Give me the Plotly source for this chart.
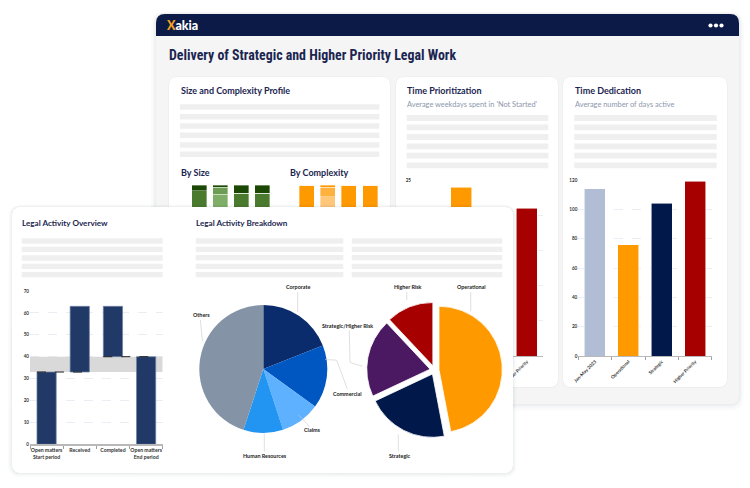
import numpy as np
import plotly.graph_objects as go

W, H = 750, 488

# ---------------- data ----------------
size_cats = ["Small", "Medium", "Large", "Very large"]
size_base = [95, 92, 93, 93]
size_mid = [0, 6, 0, 0]
size_top = [5, 2, 7, 7]

cx_cats = ["Low", "Moderate", "High", "Very high"]
cx_base = [100, 90, 100, 100]
cx_mid = [0, 8, 0, 0]
cx_top = [0, 2, 0, 0]

prio_cats = ["Jan-May 2023", "Operational", "Strategic", "Higher Priority"]
prio_vals = [13, 24, 17, 21]
prio_ticks = [0, 5, 10, 15, 20, 25]

ded_cats = ["Jan-May 2023", "Operational", "Strategic", "Higher Priority"]
ded_vals = [114, 76, 104, 119]

wf_cats = ["Open matters<br>Start period", "Received", "Completed", "Open matters<br>End period"]
wf_vals = [33, 30, -23, 40]
wf_measure = ["absolute", "relative", "relative", "total"]

area_labels = ["Corporate", "Commercial", "Claims", "Human Resources", "Others"]
area_vals = [19, 16, 10, 10, 45]

risk_labels = ["Operational", "Strategic", "Strategic/Higher Risk", "Higher Risk"]
risk_vals = [47, 21, 20, 12]

# ---------------- style ----------------
cat_colors = ["#b1bdd5", "#ff9900", "#00184a", "#a70000"]
area_colors = ["#0b2c6c", "#0057c2", "#5db1ff", "#2294f2", "#8493a6"]
risk_colors = ["#ff9900", "#00184a", "#4b1862", "#a70000"]
NAVY = "#1b2550"
FONT = "Lato"


def X(x):
    return x / W


def Y(y):
    return 1 - y / H


def rr_path(x0, y0, x1, y1, r, top_only=False):
    rb = 0 if top_only else r
    f = lambda v: f"{v:.5f}"
    return (f"M {f(X(x0 + r))} {f(Y(y0))} L {f(X(x1 - r))} {f(Y(y0))} "
            f"Q {f(X(x1))} {f(Y(y0))} {f(X(x1))} {f(Y(y0 + r))} "
            f"L {f(X(x1))} {f(Y(y1 - rb))} Q {f(X(x1))} {f(Y(y1))} {f(X(x1 - rb))} {f(Y(y1))} "
            f"L {f(X(x0 + rb))} {f(Y(y1))} Q {f(X(x0))} {f(Y(y1))} {f(X(x0))} {f(Y(y1 - rb))} "
            f"L {f(X(x0))} {f(Y(y0 + r))} Q {f(X(x0))} {f(Y(y0))} {f(X(x0 + r))} {f(Y(y0))} Z")


def rr_points(x0, y0, x1, y1, r, n=10):
    xs, ys = [], []
    for cx, cy, a0, a1 in [(x1 - r, y0 + r, -90, 0), (x1 - r, y1 - r, 0, 90),
                           (x0 + r, y1 - r, 90, 180), (x0 + r, y0 + r, 180, 270)]:
        for a in np.linspace(a0, a1, n):
            xs.append(cx + r * np.cos(np.radians(a)))
            ys.append(cy + r * np.sin(np.radians(a)))
    xs.append(xs[0])
    ys.append(ys[0])
    return xs, ys


fig = go.Figure()

# ---- subplot 1 / 2 : size & complexity mini bars ----
for vals, cols in [(size_base, ["#4a7a2d", "#80ae68", "#4a7a2d", "#4a7a2d"]),
                   (size_mid, ["#4a7a2d", "#6d9d55", "#4a7a2d", "#4a7a2d"]),
                   (size_top, ["#1c4806"] * 4)]:
    fig.add_trace(go.Bar(x=size_cats, y=vals, width=0.71, xaxis="x", yaxis="y",
                         marker=dict(color=cols, line=dict(color="rgba(255,255,255,0.6)", width=0.6)),
                         hoverinfo="skip", showlegend=False))
for vals, cols in [(cx_base, ["#ff9900", "#ffc77a", "#ff9900", "#ff9900"]),
                   (cx_mid, ["#ff9900", "#ffb13d", "#ff9900", "#ff9900"]),
                   (cx_top, ["#ff9900"] * 4)]:
    fig.add_trace(go.Bar(x=cx_cats, y=vals, width=0.71, xaxis="x2", yaxis="y2",
                         marker=dict(color=cols, line=dict(color="rgba(255,255,255,0.6)", width=0.6)),
                         hoverinfo="skip", showlegend=False))

# ---- subplot 3 / 4 : time charts ----
fig.add_trace(go.Bar(x=prio_cats, y=prio_vals, width=0.64, xaxis="x3", yaxis="y3",
                     marker=dict(color=cat_colors, line=dict(color="rgba(255,255,255,0.7)", width=0.8)),
                     hoverinfo="skip", showlegend=False))
fig.add_trace(go.Bar(x=ded_cats, y=ded_vals, width=0.63, xaxis="x4", yaxis="y4",
                     marker=dict(color=cat_colors, line=dict(color="rgba(255,255,255,0.7)", width=0.8)),
                     hoverinfo="skip", showlegend=False))

# ---- subplot 5 : front card (pixel coordinates, drawn above earlier subplots) ----
for pad, alpha in [(4, 0.018), (2.5, 0.025), (1.2, 0.035)]:
    xs, ys = rr_points(12 - pad, 207 - pad * 0.6, 513 + pad, 473 + pad * 1.2, 8 + pad)
    fig.add_trace(go.Scatter(x=xs, y=ys, fill="toself", fillcolor=f"rgba(20,30,60,{alpha})",
                             mode="lines", line=dict(width=0), xaxis="x5", yaxis="y5",
                             hoverinfo="skip", showlegend=False))
xs, ys = rr_points(12, 207, 513, 473, 8)
fig.add_trace(go.Scatter(x=xs, y=ys, fill="toself", fillcolor="white", mode="lines",
                         line=dict(width=0), xaxis="x5", yaxis="y5", hoverinfo="skip", showlegend=False))

# ---- subplot 6 : waterfall ----
fig.add_trace(go.Waterfall(x=wf_cats, y=wf_vals, measure=wf_measure, xaxis="x6", yaxis="y6",
                           increasing=dict(marker=dict(color="#213966", line=dict(color="#6f82a6", width=0.7))),
                           decreasing=dict(marker=dict(color="#213966", line=dict(color="#6f82a6", width=0.7))),
                           totals=dict(marker=dict(color="#213966", line=dict(color="#6f82a6", width=0.7))),
                           connector=dict(visible=False), hoverinfo="skip", showlegend=False))

# ---- pies ----
fig.add_trace(go.Pie(labels=area_labels, values=area_vals, sort=False, direction="clockwise",
                     rotation=0, textinfo="none", hoverinfo="skip", showlegend=False,
                     marker=dict(colors=area_colors, line=dict(width=0)),
                     domain=dict(x=[X(199.3), X(327.3)], y=[Y(433), Y(305)])))
fig.add_trace(go.Pie(labels=risk_labels, values=risk_vals, sort=False, direction="clockwise",
                     rotation=0, textinfo="none", hoverinfo="skip", showlegend=False,
                     pull=[0.071] * len(risk_vals),
                     marker=dict(colors=risk_colors, line=dict(color="white", width=0.8)),
                     domain=dict(x=[X(366.7), X(502.3)], y=[Y(437.8), Y(302.2)])))

# ---------------- axes ----------------
tickf = dict(family=FONT, size=4.6, color="#333", weight="bold")


def hidden(domain, **kw):
    d = dict(domain=domain, visible=False, fixedrange=True, automargin=False)
    d.update(kw)
    return d


def cat_x(x0, x1, anchor, angle=-45, size=4.6, **kw):
    d = dict(domain=[X(x0), X(x1)], anchor=anchor, showline=True, linecolor="#b9b9b9",
             linewidth=1.2, ticks="outside", tickson="boundaries", ticklen=3, tickcolor="#a0a0a0",
             tickangle=angle, tickfont=dict(family=FONT, size=size, color="#333", weight="bold"),
             showgrid=False, fixedrange=True, automargin=False)
    d.update(kw)
    return d


def val_y(y0, y1, anchor, rng, dtick, **kw):
    d = dict(domain=[Y(y1), Y(y0)], anchor=anchor, range=rng, dtick=dtick, showgrid=True,
             gridcolor="#e4e8f1", griddash="dash", gridwidth=0.8, zeroline=False,
             showline=False, tickfont=tickf, fixedrange=True, automargin=False)
    d.update(kw)
    return d


# labels of the Time Prioritization chart that sit under the front card are left blank
prio_ytext = ["" if v < max(prio_ticks) else str(v) for v in prio_ticks]
prio_xtext = ["" if i < len(prio_cats) - 1 else c for i, c in enumerate(prio_cats)]

layout = dict(
    width=W, height=H, autosize=False, margin=dict(l=0, r=0, t=0, b=0, pad=0),
    paper_bgcolor="white", plot_bgcolor="rgba(0,0,0,0)", showlegend=False,
    barmode="stack", waterfallgap=0.42,
    xaxis=hidden([X(188.5), X(273)], anchor="y"),
    yaxis=hidden([Y(300), Y(185)], anchor="x", range=[0, 100]),
    xaxis2=hidden([X(296.2), X(380.6)], anchor="y2"),
    yaxis2=hidden([Y(300), Y(185)], anchor="x2", range=[0, 100]),
    xaxis3=cat_x(412, 543.3, "y3", tickmode="array", tickvals=prio_cats, ticktext=prio_xtext),
    yaxis3=val_y(180, 356, "x3", [0, 25], 5, tickmode="array", tickvals=prio_ticks, ticktext=prio_ytext),
    xaxis4=cat_x(578.3, 711.7, "y4"),
    yaxis4=val_y(180, 356, "x4", [0, 120], 20),
    xaxis5=hidden([0, 1], anchor="y5", range=[0, W]),
    yaxis5=hidden([0, 1], anchor="x5", range=[H, 0]),
    xaxis6=cat_x(30, 162.7, "y6", angle=0, size=5.2),
    yaxis6=val_y(291, 444.3, "x6", [0, 70], 10),
)

# ---------------- shapes ----------------
shapes = []
# window shadow + panel
for pad, alpha in [(5, 0.015), (3, 0.025), (1.5, 0.035)]:
    shapes.append(dict(type="path", path=rr_path(156 - pad, 14 - pad * 0.5, 739 + pad, 404 + pad * 1.3, 9 + pad),
                       xref="paper", yref="paper", fillcolor=f"rgba(20,30,60,{alpha})",
                       line=dict(width=0), layer="below"))
shapes.append(dict(type="path", path=rr_path(156, 14, 739, 404, 9), xref="paper", yref="paper",
                   fillcolor="#f5f5f6", line=dict(width=0), layer="below"))
shapes.append(dict(type="path", path=rr_path(156, 14, 739, 36, 9, top_only=True), xref="paper",
                   yref="paper", fillcolor="#0b1a46", line=dict(width=0), layer="below"))
# back cards
for x0, x1 in [(169, 390), (396, 558), (563, 727)]:
    shapes.append(dict(type="path", path=rr_path(x0 - 0.6, 76.4, x1 + 0.6, 387.8, 8.5), xref="paper",
                       yref="paper", fillcolor="#ececee", line=dict(width=0), layer="below"))
    shapes.append(dict(type="path", path=rr_path(x0, 77, x1, 387, 8), xref="paper", yref="paper",
                       fillcolor="white", line=dict(width=0), layer="below"))
# header dots
for cx in [710.5, 716, 721.5]:
    shapes.append(dict(type="circle", xref="paper", yref="paper", x0=X(cx - 2.1), x1=X(cx + 2.1),
                       y0=Y(27.6), y1=Y(23.4), fillcolor="white", line=dict(width=0), layer="above"))


def placeholder(x0, x1, centers, h):
    for c in centers:
        shapes.append(dict(type="rect", xref="paper", yref="paper", x0=X(x0), x1=X(x1),
                           y0=Y(c + h / 2), y1=Y(c - h / 2), fillcolor="#efefef",
                           line=dict(width=0), layer="above"))


placeholder(180, 379.3, [107, 116.7, 126, 135.3, 145, 154.3], 5.4)
placeholder(406.7, 548.3, [118, 127.3, 137, 146.3, 155.7, 165.3], 5.8)
placeholder(574.3, 716.7, [118, 127.3, 137, 146.3, 155.7, 165.3], 5.8)
placeholder(21.7, 162.7, [241, 249.3, 258, 266.3, 274.7], 5.3)
placeholder(195.7, 343.3, [241, 249.3, 257.7, 266.3, 274.7], 5.3)
placeholder(351.7, 502.3, [241, 249.3, 257.7, 266.3, 274.7], 5.3)

# waterfall band between start and end levels, and dashed level lines
start_level = wf_vals[0]
end_level = sum(wf_vals[:3])
shapes.append(dict(type="rect", xref="x6", yref="y6", x0=-0.5, x1=3.5, y0=start_level, y1=end_level,
                   fillcolor="#d9d9d9", line=dict(width=0), layer="between"))
shapes.append(dict(type="line", xref="x6", yref="y6", x0=-0.29, x1=1.29, y0=start_level, y1=start_level,
                   line=dict(color="#222", width=1, dash="dash"), layer="above"))
shapes.append(dict(type="line", xref="x6", yref="y6", x0=1.71, x1=3.29, y0=end_level, y1=end_level,
                   line=dict(color="#222", width=1, dash="dash"), layer="above"))

# pie label leader lines
leaders = [
    [(297.7, 292), (297.7, 312)],
    [(200.3, 320), (202.5, 341)],
    [(325, 359.5), (336.7, 360.2), (347.3, 389)],
    [(298.5, 415), (309.5, 426.5)],
    [(264.3, 433.5), (264.3, 451.5)],
    [(406.7, 292), (406.7, 300)],
    [(470.7, 292), (470.7, 311.5)],
    [(349.3, 330.5), (350, 362.5), (362.5, 366.2)],
    [(398.3, 434.5), (398.3, 451.5)],
]
for pts in leaders:
    for (ax, ay), (bx, by) in zip(pts[:-1], pts[1:]):
        shapes.append(dict(type="line", xref="paper", yref="paper", x0=X(ax), y0=Y(ay), x1=X(bx), y1=Y(by),
                           line=dict(color="#c9c9c9", width=0.6), layer="above"))

# ---------------- text ----------------
ann = []


def txt(x, y, s, size, color, weight="bold", xanchor="left", family=FONT):
    ann.append(dict(x=X(x), y=Y(y), xref="paper", yref="paper", text=s, showarrow=False,
                    xanchor=xanchor, yanchor="middle", borderpad=0,
                    font=dict(family=family, size=size, color=color, weight=weight)))


txt(164.5, 25, "<span style='color:#f4a11c'>X</span>akia", 12.5, "white", weight=900)
txt(167.5, 55, "Delivery of Strategic and Higher Priority Legal Work", 13.9, NAVY,
    family="Liberation Sans Narrow, Roboto Condensed, Roboto")
txt(179.5, 90.7, "Size and Complexity Profile", 9, NAVY)
txt(406.2, 90.7, "Time Prioritization", 9, NAVY)
txt(573.8, 90.7, "Time Dedication", 9, NAVY)
txt(406.2, 104, "Average weekdays spent in 'Not Started'", 7.4, "#8d97ad", weight="normal")
txt(573.8, 104, "Average number of days active", 7.4, "#8d97ad", weight="normal")
txt(179.5, 172.7, "By Size", 9, NAVY)
txt(288.8, 172.7, "By Complexity", 9, NAVY)
txt(21.3, 223.3, "Legal Activity Overview", 8.1, NAVY)
txt(195.3, 223.3, "Legal Activity Breakdown", 8.1, NAVY)

pie_label_pos = {
    "Corporate": (297.5, 287.3), "Others": (201, 315), "Commercial": (347.5, 393.7),
    "Claims": (312.8, 430), "Human Resources": (265.2, 456),
    "Higher Risk": (408.3, 287.3), "Operational": (471.2, 287.3),
    "Strategic/Higher Risk": (347.3, 326), "Strategic": (399.8, 456),
}
for lab in area_labels + risk_labels:
    x, y = pie_label_pos[lab]
    txt(x, y, lab, 5.4, "#222", xanchor="center")

layout["shapes"] = shapes
layout["annotations"] = ann
fig.update_layout(**layout)

fig.write_html("out.html", config={"displayModeBar": False, "staticPlot": True},
               post_script="document.body.style.margin='0';document.body.style.padding='0';")
